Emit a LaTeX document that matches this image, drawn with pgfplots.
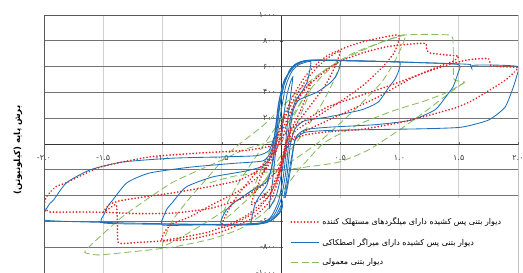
\documentclass[border=0pt]{standalone}
\usepackage{fontspec}
\usepackage{pgfplots}
\pgfplotsset{compat=1.18}
\TeXXeTstate=1
\newfontfamily\arabicfont[Script=Arabic]{DejaVu Sans}
\newfontfamily\digfont{DejaVu Sans}
\newcommand{\dg}[1]{\mbox{\digfont #1}}
\definecolor{bl}{RGB}{30,112,185}
\definecolor{rd}{RGB}{225,35,35}
\definecolor{gr}{RGB}{135,188,95}
\tikzset{
 redst/.style={color=rd, line width=1.9pt, dash pattern=on 0.01pt off 3.3pt, line cap=round},
 bluest/.style={color=bl, line width=0.85pt},
 greenst/.style={color=gr, line width=0.85pt, dash pattern=on 7pt off 3.5pt},
}
\begin{document}
\begin{tikzpicture}
\begin{axis}[
 name=ax, set layers,
 width=474pt, height=258pt, scale only axis,
 xmin=-2, xmax=2, ymin=-1000, ymax=1000, enlargelimits=false,
 axis lines=middle,
 axis line style={-, black!80, line width=0.6pt},
 xtick={-2,-1.5,-1,-0.5,0.5,1,1.5,2},
 xticklabels={\dg{-۲.۰},\dg{-۱.۵},\dg{-۱.۰},\dg{-۰.۵},\dg{۰.۵},\dg{۱.۰},\dg{۱.۵},\dg{۲.۰}},
 ytick={-1000,-800,-600,-400,-200,200,400,600,800,1000},
 yticklabels={\dg{-۱۰۰۰},\dg{-۸۰۰},\dg{-۶۰۰},\dg{-۴۰۰},\dg{-۲۰۰},\dg{۲۰۰},\dg{۴۰۰},\dg{۶۰۰},\dg{۸۰۰},\dg{۱۰۰۰}},
 ticklabel style={font=\fontsize{8}{9}\selectfont, text=black!75},
 xticklabel style={yshift=-6pt},
 major tick length=3pt,
 tick style={black!60},
 grid=major,
 x grid style={black!18, line width=0.6pt},
 y grid style={black!55, line width=0.6pt},
 every axis y label/.style={at={(rel axis cs:-0.055,0.477)}, anchor=center, rotate=90},
 ylabel={\fontsize{8.5}{9}\selectfont\bfseries\arabicfont\beginR برش پایه (کیلونیوتن)\endR},
 legend style={at={(rel axis cs:0.513,0.01)}, anchor=south west, draw=none, fill=none,
   font=\fontsize{8}{9}\selectfont, row sep=8pt},
 legend cell align=left,
 legend image code/.code={\draw[#1] (0pt,0pt) -- (28pt,0pt);},
]
% ---------- green: conventional wall ----------
\addplot[greenst, smooth, tension=0.35, forget plot] coordinates {
(0,0) (0.1,200) (0.18,340) (0.25,430) (0.2,300) (0.12,130) (0.06,0) (-0.05,-160) (-0.15,-300) (-0.25,-400) (-0.2,-270) (-0.12,-100) (-0.06,0) (0.05,150)};
\addplot[greenst, smooth, tension=0.35, forget plot] coordinates {
(0.05,150) (0.2,370) (0.35,530) (0.5,640) (0.45,500) (0.35,320) (0.22,130) (0.12,0) (-0.05,-190) (-0.25,-400) (-0.5,-600) (-0.45,-450) (-0.35,-290) (-0.22,-110) (-0.14,0) (0.0,190)};
\addplot[greenst, smooth, tension=0.35, forget plot] coordinates {
(0.0,190) (0.15,380) (0.35,560) (0.6,700) (0.85,790) (1.05,845) (0.97,660) (0.85,480) (0.65,290) (0.45,120) (0.3,0) (0.05,-160) (-0.25,-360) (-0.55,-560) (-0.8,-700) (-1.0,-790) (-0.92,-600) (-0.78,-430) (-0.6,-240) (-0.45,-80) (-0.35,0) (-0.13,160) (0.15,420)};
\addplot[greenst, smooth, tension=0.3, forget plot] coordinates {
(0.15,420) (0.35,560) (0.6,690) (0.85,790) (1.05,845) (1.25,850) (1.42,845) (1.45,820) (1.455,650) (1.46,500) (1.55,480) (1.5,450) (1.39,395) (1.2,330) (0.97,265) (0.7,170) (0.5,80) (0.35,0) (0.15,-200) (0.0,-380) (-0.15,-540) (-0.35,-660) (-0.6,-740) (-0.92,-800) (-1.2,-830) (-1.53,-860) (-1.62,-850) (-1.65,-825) (-1.34,-565) (-0.92,-300) (-0.5,-125) (-0.3,-40) (0.0,40)};
\addplot[greenst, smooth, tension=0.35, forget plot] coordinates {
(-0.6,-300) (-0.4,-250) (-0.18,-225) (0.2,-180) (0.49,-140) (0.74,-45) (1.0,110) (1.2,240) (1.4,380) (1.55,480)};
% ---------- blue: friction damper ----------
\addplot[bluest, smooth, tension=0.35, forget plot] coordinates {
(0,0) (0.02,200) (0.05,380) (0.08,480) (0.1,520) (0.09,440) (0.07,300) (0.05,120) (0.03,-80) (0.0,-250) (-0.04,-400) (-0.08,-470) (-0.1,-500) (-0.09,-420) (-0.07,-280) (-0.05,-100) (-0.03,80) (0.0,250)};
\addplot[bluest, smooth, tension=0.35, forget plot] coordinates {
(0,250) (0.04,450) (0.09,560) (0.15,615) (0.25,640) (0.24,560) (0.22,480) (0.18,410) (0.12,330) (0.08,200) (0.05,0) (0.02,-250) (-0.02,-440) (-0.08,-560) (-0.15,-610) (-0.25,-625) (-0.24,-545) (-0.22,-470) (-0.18,-400) (-0.12,-320) (-0.08,-180) (-0.05,20) (-0.02,260) (0.02,440)};
\addplot[bluest, smooth, tension=0.35, forget plot] coordinates {
(0.02,440) (0.07,570) (0.13,625) (0.22,648) (0.35,650) (0.5,648) (0.49,580) (0.46,520) (0.41,470) (0.3,400) (0.15,340) (0.1,250) (0.07,50) (0.04,-220) (0.0,-430) (-0.06,-555) (-0.14,-610) (-0.25,-625) (-0.5,-622) (-0.49,-560) (-0.46,-510) (-0.4,-457) (-0.3,-395) (-0.24,-357) (-0.12,-290) (-0.07,-150) (-0.04,50) (-0.01,300) (0.03,480)};
\addplot[bluest, smooth, tension=0.35, forget plot] coordinates {
(0.03,480) (0.09,590) (0.16,635) (0.25,650) (0.5,648) (0.8,640) (1.0,635) (0.99,560) (0.96,500) (0.91,440) (0.82,325) (0.68,265) (0.4,210) (0.2,180) (0.12,120) (0.08,0) (0.05,-250) (0.02,-430) (-0.04,-550) (-0.12,-610) (-0.3,-628) (-0.7,-628) (-1.0,-628) (-0.99,-560) (-0.96,-500) (-0.92,-457) (-0.8,-333) (-0.58,-256) (-0.3,-210) (-0.15,-170) (-0.08,-80) (-0.05,80) (-0.02,300) (0.02,470) (0.1,600)};
\addplot[bluest, smooth, tension=0.35, forget plot] coordinates {
(0.1,600) (0.18,640) (0.3,650) (0.8,642) (1.2,630) (1.5,615) (1.49,540) (1.45,440) (1.39,365) (1.3,265) (1.1,185) (0.8,150) (0.4,130) (0.2,110) (0.12,40) (0.08,-200) (0.04,-400) (-0.02,-540) (-0.1,-600) (-0.3,-622) (-1.0,-622) (-1.5,-612) (-1.49,-540) (-1.46,-480) (-1.42,-435) (-1.3,-300) (-1.11,-225) (-0.77,-180) (-0.4,-150) (-0.15,-130) (-0.08,-50) (-0.05,100) (-0.02,320) (0.03,500) (0.12,610)};
\addplot[bluest, smooth, tension=0.35, forget plot] coordinates {
(0.12,610) (0.2,640) (0.35,648) (0.8,640) (1.2,630) (1.58,618) (1.6,605) (1.61,585) (1.62,610) (1.8,612) (2.0,600) (1.99,530) (1.96,440) (1.89,285) (1.75,185) (1.52,130) (1.2,118) (0.8,112) (0.4,105) (0.2,90) (0.12,30) (0.08,-150) (0.04,-380) (0.0,-520) (-0.08,-590) (-0.2,-615) (-0.5,-625) (-1.0,-618) (-1.5,-608) (-2.0,-590) (-1.99,-520) (-1.95,-460) (-1.92,-435) (-1.81,-300) (-1.61,-200) (-1.34,-140) (-0.92,-110) (-0.5,-100) (-0.2,-90) (-0.1,-50) (-0.06,50)};
% ---------- red: dissipating bars ----------
\addplot[redst, smooth, tension=0.35, forget plot] coordinates {
(0,0) (0.05,160) (0.1,280) (0.17,390) (0.25,480) (0.22,390) (0.17,270) (0.1,140) (0.05,40) (0.02,-80) (-0.02,-220) (-0.08,-330) (-0.15,-410) (-0.25,-470) (-0.22,-380) (-0.17,-260) (-0.1,-130) (-0.05,-30) (-0.02,70) (0.02,180)};
\addplot[redst, smooth, tension=0.35, forget plot] coordinates {
(0.02,180) (0.1,330) (0.2,480) (0.3,590) (0.4,670) (0.5,720) (0.46,610) (0.39,480) (0.3,360) (0.2,240) (0.1,120) (0.05,30) (0.02,-90) (-0.03,-260) (-0.1,-400) (-0.2,-510) (-0.35,-600) (-0.5,-650) (-0.46,-540) (-0.39,-430) (-0.3,-320) (-0.2,-210) (-0.1,-100) (-0.05,-10) (-0.02,90) (0.03,230)};
\addplot[redst, smooth, tension=0.35, forget plot] coordinates {
(0.03,230) (0.1,370) (0.2,520) (0.3,620) (0.4,690) (0.55,750) (0.7,795) (0.85,825) (0.97,845) (1.0,835) (0.99,790) (0.95,700) (0.85,590) (0.7,460) (0.55,360) (0.4,270) (0.25,180) (0.12,100) (0.05,20) (0.02,-100) (-0.03,-300) (-0.1,-450) (-0.25,-580) (-0.5,-680) (-0.75,-735) (-1.0,-750) (-0.98,-680) (-0.92,-620) (-0.77,-565) (-0.58,-470) (-0.35,-360) (-0.15,-220) (-0.05,-80) (0.0,80)};
\addplot[redst, smooth, tension=0.3, forget plot] coordinates {
(0.0,80) (0.08,250) (0.2,420) (0.35,550) (0.5,640) (0.7,710) (0.9,755) (1.1,775) (1.22,780) (1.23,730) (1.26,705) (1.4,690) (1.5,680) (1.45,640) (1.3,590) (1.1,510) (0.82,365) (0.6,270) (0.4,185) (0.2,100) (0.08,30) (0.03,-80) (-0.02,-250) (-0.1,-400) (-0.3,-560) (-0.6,-680) (-1.0,-750) (-1.2,-762) (-1.37,-767) (-1.38,-620) (-1.39,-470) (-1.45,-500) (-1.5,-527) (-1.45,-470) (-1.36,-440) (-1.15,-410) (-0.92,-380) (-0.6,-330) (-0.35,-280) (-0.15,-180) (-0.05,-60) (0.0,50)};
\addplot[redst, smooth, tension=0.3, forget plot] coordinates {
(0.0,50) (0.1,130) (0.25,210) (0.4,290) (0.7,385) (0.97,470) (1.2,550) (1.47,630) (1.6,655) (1.75,662) (1.77,610) (1.85,600) (2.0,590) (1.9,500) (1.8,440) (1.72,395) (1.6,330) (1.47,280) (1.2,210) (0.97,160) (0.69,115) (0.4,95) (0.2,70) (0.08,20) (0.03,-80) (-0.03,-200) (-0.15,-320) (-0.35,-430) (-0.6,-500) (-0.9,-535) (-1.2,-540) (-1.47,-530) (-1.7,-527) (-1.95,-527) (-2.0,-490) (-1.98,-410) (-1.9,-330) (-1.81,-300) (-1.53,-180) (-1.11,-100) (-0.69,-70) (-0.3,-50) (-0.1,-20) (0.0,0)};
% white legend area and frame
\fill[white] (axis cs:0.02,-1000) rectangle (axis cs:2,-420);
\draw[black!65, line width=0.6pt] (rel axis cs:0,0) rectangle (rel axis cs:1,1);
\addlegendimage{redst}
\addlegendentry{\arabicfont\beginR دیوار بتنی پس کشیده دارای میلگردهای مستهلک کننده\endR}
\addlegendimage{bluest}
\addlegendentry{\arabicfont\beginR دیوار بتنی پس کشیده دارای میراگر اصطکاکی\endR}
\addlegendimage{greenst}
\addlegendentry{\arabicfont\beginR دیوار بتنی معمولی\endR}
\end{axis}
\pgfresetboundingbox
\path ([xshift=-44pt]ax.south west) rectangle ([xshift=5pt,yshift=15pt]ax.north east);
\end{tikzpicture}
\end{document}
